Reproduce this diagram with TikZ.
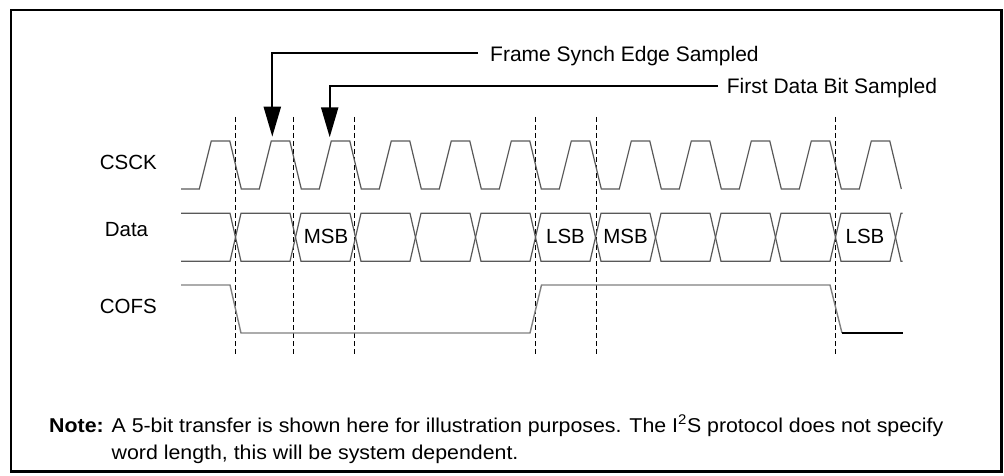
\documentclass[tikz,border=0pt]{standalone}
\usepackage{fontspec}
\setmainfont{Liberation Sans}
\usetikzlibrary{arrows.meta}
\begin{document}
\begin{tikzpicture}[x=1pt,y=-1pt,
  wave/.style={draw=black!65, line width=1.2pt, line join=miter},
  cofsline/.style={draw=black!50, line width=1.4pt},
  guide/.style={draw=black, line width=1.1pt, dash pattern=on 5pt off 3pt},
  arr/.style={draw=black, line width=2.2pt, -{Triangle[length=30pt,width=17pt]}},
  lbl/.style={inner sep=0pt, font=\fontsize{20.5}{24}\selectfont},
  ann/.style={inner sep=0pt, font=\fontsize{21}{25}\selectfont},
  notestyle/.style={inner sep=0pt, font=\fontsize{20}{27}\selectfont},
  ]
\useasboundingbox (0,0) rectangle (1004,476);
\draw[line width=2.2pt] (11,9.7) rectangle (1001.5,471.5);

% guide lines
\foreach \x in {235.3,293.3,354.3,535.7,596.3,835.6}
  \draw[guide] (\x,117) -- (\x,356);

% signal labels
\node[lbl, anchor=base] (csck) at (128.3,170) {CSCK};
\node[lbl, anchor=base] (data) at (126.5,236.7) {Data};
\node[lbl, anchor=base] (cofs) at (128.3,313.3) {COFS};

% clock
\draw[wave] (181,189) \foreach \k in {0,...,11}{ -- ({199.3+60*\k},189) -- ++(12,-48) -- ++(18.5,0) -- ++(11.5,48)};

% data bus
\draw[wave] (181,213.3) -- (230,213.3) -- (235.5,237.3) -- (230,261.3) -- (181,261.3);
\foreach \k in {0,...,10}{
  \pgfmathsetmacro\a{235.5+60*\k}
  \pgfmathsetmacro\b{\a+60}
  \draw[wave] (\a,237.3) -- (\a+5.5,213.3) -- (\b-5.5,213.3) -- (\b,237.3) -- (\b-5.5,261.3) -- (\a+5.5,261.3) -- cycle;
}
\draw[wave] (902.7,213.3) -- (901,213.3) -- (895.5,237.3) -- (901,261.3) -- (902.7,261.3);
\node[lbl, anchor=base] (msb1) at (326,243.3) {MSB};
\node[lbl, anchor=base] (lsb1) at (565.5,243.3) {LSB};
\node[lbl, anchor=base] (msb2) at (625.5,243.3) {MSB};
\node[lbl, anchor=base] (lsb2) at (865,243.3) {LSB};

% frame sync
\draw[cofsline] (181,285) -- (230,285) -- (241,333) -- (530,333) -- (541.5,285) -- (830,285) -- (842,333);
\draw[black, line width=1.3pt] (842,333) -- (902.7,333);

% annotations
\node[ann, anchor=base west] (fs) at (490,61.7) {Frame Synch Edge Sampled};
\node[ann, anchor=base west] (fd) at (726.7,94) {First Data Bit Sampled};
\coordinate (fsa) at (272.3,136.7);
\coordinate (fda) at (329.7,137.3);
\draw[arr, shorten <=12pt] (fs.west |- 0,52.7) -| (fsa);
\draw[arr, shorten <=8.7pt] (fd.west |- 0,86) -| (fda);

% note
\node[notestyle, anchor=base west] (note) at (49,432) {\resizebox{894pt}{\height}{\begin{tabular}[t]{@{}l@{}}\textbf{Note:} A 5-bit transfer is shown here for illustration purposes. The I\textsuperscript{2}S protocol does not specify\\\hphantom{\textbf{Note:} }word length, this will be system dependent.\end{tabular}}};
\end{tikzpicture}
\end{document}
